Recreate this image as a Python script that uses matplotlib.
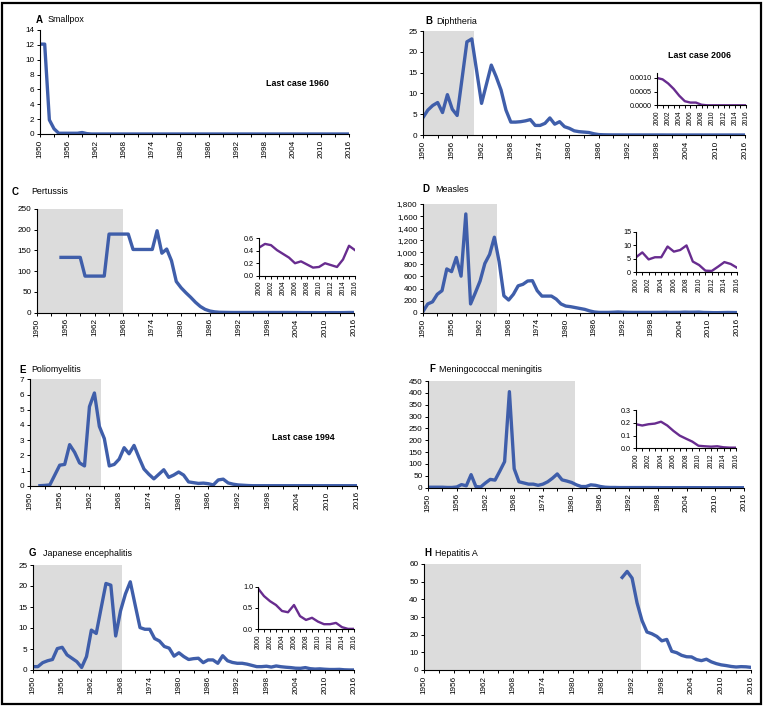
import matplotlib.pyplot as plt
from matplotlib.patches import Rectangle
from matplotlib.ticker import FuncFormatter, MultipleLocator

plt.rcParams['font.family'] = ['Liberation Sans', 'DejaVu Sans']

# ---- data (cases per 100,000) ----
smallpox_start = 1950
smallpox = [
    12.1, 12.1, 1.9, 0.7, 0.1, 0.1, 0.1, 0.1, 0.1, 0.2,
    0.05, 0, 0, 0, 0, 0, 0, 0, 0, 0,
    0, 0, 0, 0, 0, 0, 0, 0, 0, 0,
    0, 0, 0, 0, 0, 0, 0, 0, 0, 0,
    0, 0, 0, 0, 0, 0, 0, 0, 0, 0,
    0, 0, 0, 0, 0, 0, 0, 0, 0, 0,
    0, 0, 0, 0, 0, 0, 0,
]

diphtheria_start = 1950
diphtheria = [
    4.2, 6.0, 7.1, 7.8, 5.4, 9.7, 6.2, 4.7, 13.5, 22.4,
    23.1, 15.4, 7.6, 12.2, 16.8, 14.0, 10.8, 6.0, 3.1, 3.1,
    3.2, 3.4, 3.7, 2.3, 2.3, 2.8, 4.1, 2.6, 3.2, 2.0,
    1.6, 1.0, 0.8, 0.7, 0.6, 0.3, 0.1, 0.05, 0.03, 0.02,
    0.02, 0.01, 0.01, 0.01, 0.01, 0.01, 0.01, 0.01, 0.01, 0.01,
]
diphtheria_recent = [0.0010, 0.00095, 0.0008, 0.0006, 0.00035, 0.00015, 0.0001,
                     0.0001, 0.00002, 0, 0, 0, 0, 0, 0, 0, 0]

pertussis_start = 1955
pertussis = [
    133, 133, 133, 133, 133,
    88, 88, 88, 88, 88, 189, 189, 189, 189, 189,
    152, 152, 152, 152, 152, 197, 143, 153, 125, 75,
    60, 48, 37, 25, 15, 8, 4, 2, 1, 0.8,
    0.6, 0.5, 0.5, 0.5, 0.5, 0.5, 0.5, 0.5, 0.5, 0.5,
]
pertussis_recent = [0.45, 0.51, 0.49, 0.41, 0.35, 0.29, 0.2, 0.23, 0.18,
                    0.13, 0.14, 0.2, 0.17, 0.14, 0.26, 0.48, 0.41]

measles_start = 1950
measles = [
    20, 145, 180, 305, 365, 725, 680, 915, 605, 1635,
    145, 330, 525, 815, 965, 1250, 845, 280, 210, 305,
    445, 470, 525, 530, 365, 275, 275, 275, 225, 145,
    110, 100, 85, 70, 55, 30, 12, 5, 5, 5,
    8, 12, 8, 6, 5, 5, 5, 5, 5, 5,
]
measles_recent = [5.6, 7.4, 4.8, 5.6, 5.6, 9.6, 7.7, 8.3, 10.0,
                  4.0, 2.7, 0.6, 0.5, 2.1, 3.8, 3.1, 1.7]

polio_start = 1952
polio = [
    0.0, 0.02, 0.05, 0.7, 1.35, 1.4, 2.7, 2.2,
    1.5, 1.3, 5.2, 6.1, 3.9, 3.1, 1.3, 1.4, 1.75, 2.5,
    2.1, 2.65, 1.85, 1.1, 0.75, 0.45, 0.75, 1.05, 0.55, 0.7,
    0.9, 0.7, 0.25, 0.2, 0.15, 0.17, 0.13, 0.05, 0.38, 0.43,
    0.18, 0.1, 0.05, 0.03, 0.01, 0, 0, 0, 0, 0,
    0, 0, 0, 0, 0, 0, 0, 0, 0, 0,
    0, 0, 0, 0, 0, 0, 0,
]

mening_start = 1950
mening = [
    2, 2, 2, 2, 1, 1, 3, 13, 8, 55,
    5, 3, 20, 35, 32, 70, 110, 405, 80, 25,
    20, 15, 15, 10, 15, 25, 40, 58, 33, 28,
    22, 12, 5, 5, 12, 10, 5, 2, 1, 1,
    0.5, 0.5, 0.5, 0.5, 0.5, 0.5, 0.5, 0.4, 0.3, 0.2,
]
mening_recent = [0.19, 0.18, 0.19, 0.195, 0.21, 0.18, 0.137, 0.1, 0.076,
                 0.053, 0.02, 0.016, 0.013, 0.016, 0.008, 0.005, 0.005]

je_start = 1950
je = [
    0.8, 0.8, 1.75, 2.2, 2.5, 5.1, 5.4, 3.6, 2.8, 2.0,
    0.6, 3.2, 9.5, 8.7, 14.7, 20.6, 20.2, 8.1, 14.1, 18.1,
    21.0, 15.5, 10.1, 9.7, 9.7, 7.5, 6.9, 5.6, 5.2, 3.3,
    4.1, 3.2, 2.5, 2.7, 2.8, 1.75, 2.4, 2.4, 1.6, 3.4,
    2.2, 1.8, 1.6, 1.6, 1.4, 1.1, 0.8, 0.8, 0.9, 0.7,
]
je_recent = [0.96, 0.78, 0.66, 0.57, 0.43, 0.4, 0.57, 0.31, 0.22,
             0.27, 0.18, 0.12, 0.12, 0.15, 0.05, 0.01, 0.01]

hepa_start = 1990
hepa = [
    52.4, 55.8, 52.0, 38.0, 28.0, 21.5, 20.5, 19.0, 16.5, 17.3,
    10.6, 9.8, 8.3, 7.5, 7.4, 5.9, 5.3, 6.1, 4.6, 3.6,
    2.9, 2.5, 2.0, 1.7, 1.9, 1.8, 1.5,
]

# ---- layout helpers (pixel boxes of the 765x707 reference) ----
W, H = 765, 707
BLUE = '#3f5eaa'
PURPLE = '#682c8f'
SHADE = '#dcdcdc'


def box(left, top, right, bottom):
    return [left / W, 1 - bottom / H, (right - left) / W, (bottom - top) / H]


def fig_xy(x, y):
    return x / W, 1 - y / H


def style_axis(ax, fs, tick_len=2.5):
    for side in ('top', 'right'):
        ax.spines[side].set_visible(False)
    for side in ('left', 'bottom'):
        ax.spines[side].set_linewidth(0.8)
    ax.tick_params(axis='both', which='both', direction='out', width=0.7,
                   labelsize=fs, pad=1.5)
    ax.tick_params(axis='both', which='major', length=tick_len)
    ax.tick_params(axis='x', which='minor', length=tick_len)
    ax.tick_params(axis='x', labelrotation=90)


def main_panel(fig, rect, start, values, ymax, ystep, shade_end=None, fmt=None):
    ax = fig.add_axes(box(*rect))
    years = list(range(start, start + len(values)))
    if shade_end is not None:
        ax.axvspan(1950, shade_end, color=SHADE, lw=0, zorder=0)
    ax.plot(years, values, color=BLUE, lw=2.4, solid_joinstyle='round', zorder=2)
    ax.set_xlim(1950, 2016)
    ax.set_ylim(0, ymax)
    ax.set_xticks(range(1950, 2017, 6))
    ax.xaxis.set_minor_locator(MultipleLocator(3))
    ax.yaxis.set_major_locator(MultipleLocator(ystep))
    if fmt:
        ax.yaxis.set_major_formatter(FuncFormatter(fmt))
    style_axis(ax, 5.9)
    return ax


def inset_panel(fig, rect, values, ymax, ystep, fmt):
    ax = fig.add_axes(box(*rect))
    years = list(range(2000, 2000 + len(values)))
    ax.plot(years, values, color=PURPLE, lw=1.7, zorder=2)
    ax.set_xlim(2000, 2016)
    ax.set_ylim(0, ymax)
    ax.set_xticks(range(2000, 2017, 2))
    ax.xaxis.set_minor_locator(MultipleLocator(1))
    ax.yaxis.set_major_locator(MultipleLocator(ystep))
    ax.yaxis.set_major_formatter(FuncFormatter(fmt))
    style_axis(ax, 5.2, tick_len=2)
    ax.tick_params(axis='x', labelsize=4.8)
    ax.patch.set_alpha(0)
    return ax


def title(fig, x_letter, x_name, y, letter, name):
    fig.text(*fig_xy(x_letter, y), letter, fontsize=7, fontweight='bold',
             va='center', ha='left')
    fig.text(*fig_xy(x_name, y), name, fontsize=6.4, va='center', ha='left')


def note(fig, x, y, text):
    fig.text(*fig_xy(x, y), text, fontsize=6.4, fontweight='bold',
             va='center', ha='center')


fig = plt.figure(figsize=(W / 100, H / 100), dpi=100)

# A Smallpox
main_panel(fig, (40, 30, 349, 134), smallpox_start, smallpox, 14, 2)
title(fig, 36, 48, 20, 'A', 'Smallpox')
note(fig, 297, 84, 'Last case 1960')

# B Diphtheria
main_panel(fig, (423, 31, 745, 135), diphtheria_start,
           diphtheria + diphtheria_recent, 25, 5, shade_end=1960.5)
title(fig, 425, 436, 21, 'B', 'Diphtheria')
note(fig, 699, 55, 'Last case 2006')
inset_panel(fig, (657, 72.5, 746, 105.3), diphtheria_recent, 0.0012, 0.0005,
            lambda v, p: f'{v:.4f}')

# C Pertussis
main_panel(fig, (37, 208.7, 354, 312.7), pertussis_start,
           pertussis + pertussis_recent, 250, 50, shade_end=1968)
title(fig, 12, 31, 192, 'C', 'Pertussis')
inset_panel(fig, (259, 238.3, 355, 275.7), pertussis_recent, 0.6, 0.2,
            lambda v, p: f'{v:.1f}')

# D Measles
main_panel(fig, (423, 204, 737, 312.7), measles_start,
           measles + measles_recent, 1800, 200, shade_end=1965.6,
           fmt=lambda v, p: f'{v:,.0f}')
title(fig, 422, 435, 189, 'D', 'Measles')
inset_panel(fig, (636, 232, 737, 272.3), measles_recent, 15, 5,
            lambda v, p: f'{v:.0f}')

# E Poliomyelitis
main_panel(fig, (30, 379.3, 357, 485.7), polio_start, polio, 7, 1,
           shade_end=1964.35)
title(fig, 19, 31, 370, 'E', 'Poliomyelitis')
note(fig, 303, 437, 'Last case 1994')

# F Meningococcal meningitis
main_panel(fig, (428, 381, 744, 487.7), mening_start, mening + mening_recent,
           450, 50, shade_end=1980.7)
title(fig, 429, 439, 369, 'F', 'Meningococcal meningitis')
inset_panel(fig, (636, 410.3, 736, 448.3), mening_recent, 0.3, 0.1,
            lambda v, p: f'{v:.1f}')

# G Japanese encephalitis
main_panel(fig, (33, 565, 354, 670), je_start, je + je_recent, 25, 5,
           shade_end=1968.2)
title(fig, 29, 43, 553, 'G', 'Japanese encephalitis')
inset_panel(fig, (258, 586.7, 354, 629.3), je_recent, 1.0, 0.5,
            lambda v, p: f'{v:.1f}')

# H Hepatitis A
main_panel(fig, (424, 564, 751, 670), hepa_start, hepa, 60, 10,
           shade_end=1993.8)
title(fig, 424, 435, 553, 'H', 'Hepatitis A')

# outer frame
fig.add_artist(Rectangle((2 / W, 3 / H), 759 / W, 701 / H,
                         transform=fig.transFigure, fill=False,
                         lw=1.6, ec='black'))

fig.savefig('out.png', dpi=100)
